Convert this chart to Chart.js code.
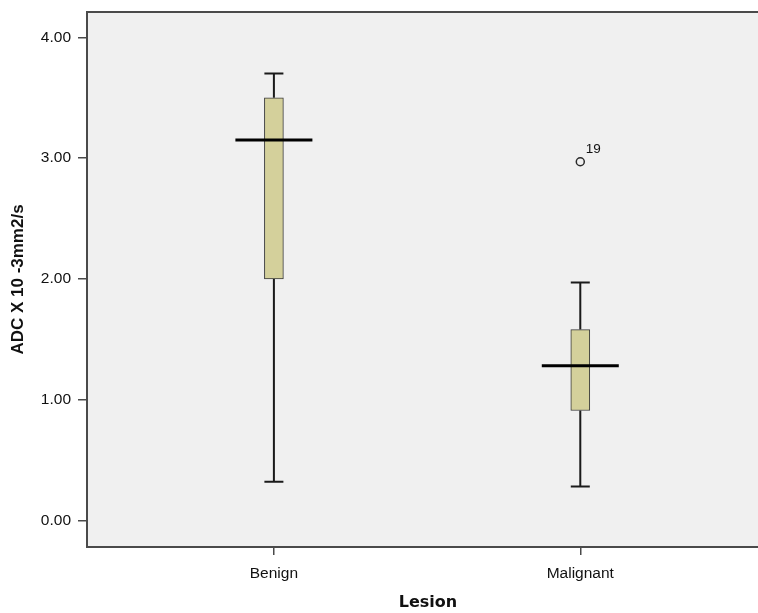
<!DOCTYPE html>
<html>
<head>
<meta charset="utf-8">
<style>
  html, body { margin: 0; padding: 0; background: #ffffff; overflow: hidden; }
  #wrap { width: 758px; height: 613px; position: relative; }
  #chart { display: block; }
</style>
<script src="https://cdn.jsdelivr.net/npm/chart.js@4/dist/chart.umd.min.js"></script>
</head>
<body>
<div id="wrap"><canvas id="chart" width="758" height="613"></canvas></div>
<script>
// Box plot summary of ADC per lesion group
const categories   = ['Benign', 'Malignant'];
const whiskerLow   = [0.32, 0.28];
const quartile1    = [2.00, 0.91];
const medians      = [3.15, 1.28];
const quartile3    = [3.50, 1.58];
const whiskerHigh  = [3.70, 1.97];

// Outlying cases: group index, value, case number
const outlierGroup = [1];
const outlierValue = [2.97];
const outlierCase  = ['19'];

const yTicks = [0, 1, 2, 3, 4];

const xTitle = 'Lesion';
const yTitle = 'ADC X 10 -3mm2/s';

const boxFill = '#d4d09b';
const frameColor = '#4a4a4a';

const boxData = categories.map((c, i) => ({ x: i + 1, y: [quartile1[i], quartile3[i]] }));
const outlierData = outlierGroup.map((g, k) => ({ x: g + 1, y: outlierValue[k] }));

const boxPlotPlugin = {
  id: 'boxPlotParts',
  beforeDraw(chart) {
    const { ctx, chartArea: a } = chart;
    ctx.save();
    ctx.fillStyle = '#f0f0f0';
    ctx.fillRect(a.left, a.top, a.right - a.left, a.bottom - a.top);
    ctx.restore();
  },
  beforeDatasetsDraw(chart) {
    const { ctx, scales: { x, y } } = chart;
    ctx.save();
    ctx.strokeStyle = '#1a1a1a';
    ctx.lineWidth = 2;
    categories.forEach((c, i) => {
      const cx = x.getPixelForValue(i + 1);
      const capHalf = 9.5;
      ctx.beginPath();
      ctx.moveTo(cx, y.getPixelForValue(whiskerHigh[i]));
      ctx.lineTo(cx, y.getPixelForValue(quartile3[i]));
      ctx.moveTo(cx, y.getPixelForValue(quartile1[i]));
      ctx.lineTo(cx, y.getPixelForValue(whiskerLow[i]));
      ctx.moveTo(cx - capHalf, y.getPixelForValue(whiskerHigh[i]));
      ctx.lineTo(cx + capHalf, y.getPixelForValue(whiskerHigh[i]));
      ctx.moveTo(cx - capHalf, y.getPixelForValue(whiskerLow[i]));
      ctx.lineTo(cx + capHalf, y.getPixelForValue(whiskerLow[i]));
      ctx.stroke();
    });
    ctx.restore();
  },
  afterDatasetsDraw(chart) {
    const { ctx, chartArea: a, scales: { x, y } } = chart;
    ctx.save();
    // median lines
    ctx.strokeStyle = '#000000';
    ctx.lineWidth = 3;
    categories.forEach((c, i) => {
      const cx = x.getPixelForValue(i + 1);
      const my = y.getPixelForValue(medians[i]);
      ctx.beginPath();
      ctx.moveTo(cx - 38.5, my);
      ctx.lineTo(cx + 38.5, my);
      ctx.stroke();
    });
    // outlier case labels
    ctx.fillStyle = '#111111';
    ctx.font = '13.5px "Liberation Sans", Arial, sans-serif';
    ctx.textBaseline = 'middle';
    ctx.textAlign = 'left';
    outlierGroup.forEach((g, k) => {
      const px = x.getPixelForValue(g + 1);
      const py = y.getPixelForValue(outlierValue[k]);
      ctx.fillText(outlierCase[k], px + 5.5, py - 12.5);
    });
    // plot frame (open on the right)
    ctx.strokeStyle = frameColor;
    ctx.lineWidth = 2;
    ctx.beginPath();
    ctx.moveTo(a.right + 2, a.top);
    ctx.lineTo(a.left, a.top);
    ctx.lineTo(a.left, a.bottom);
    ctx.lineTo(a.right + 2, a.bottom);
    ctx.stroke();
    // axis titles
    ctx.fillStyle = '#111111';
    ctx.textAlign = 'center';
    ctx.textBaseline = 'middle';
    ctx.font = 'bold 16px "DejaVu Sans", sans-serif';
    ctx.fillText(xTitle, 428, 603);
    ctx.save();
    ctx.translate(18, (a.top + a.bottom) / 2);
    ctx.rotate(-Math.PI / 2);
    ctx.font = 'bold 17px "Liberation Sans", Arial, sans-serif';
    ctx.fillText(yTitle, 0, 0);
    ctx.restore();
    ctx.restore();
  }
};

new Chart(document.getElementById('chart'), {
  type: 'bar',
  data: {
    datasets: [
      {
        type: 'bar',
        label: 'IQR',
        data: boxData,
        backgroundColor: boxFill,
        borderColor: '#3a3a3a',
        borderWidth: 1,
        borderSkipped: false,
        barThickness: 19,
        grouped: false
      },
      {
        type: 'scatter',
        label: 'Outliers',
        data: outlierData,
        pointStyle: 'circle',
        pointRadius: 4,
        pointBorderWidth: 1.5,
        pointBorderColor: '#2a2a2a',
        pointBackgroundColor: 'rgba(0,0,0,0)'
      }
    ]
  },
  options: {
    responsive: false,
    animation: false,
    devicePixelRatio: 1,
    layout: { autoPadding: false, padding: { top: 12, right: 0, left: 0, bottom: 0 } },
    plugins: {
      legend: { display: false },
      tooltip: { enabled: false },
      title: { display: false }
    },
    scales: {
      x: {
        type: 'linear',
        min: 0.39,
        max: 2.58,
        offset: false,
        border: { display: false },
        grid: {
          display: true,
          offset: false,
          drawOnChartArea: false,
          drawTicks: true,
          tickLength: 8,
          color: frameColor,
          lineWidth: 1.5
        },
        afterBuildTicks(scale) {
          scale.ticks = categories.map((c, i) => ({ value: i + 1 }));
        },
        afterFit(scale) {
          scale.height = 66;
          scale.paddingLeft = 0;
          scale.paddingRight = 0;
        },
        ticks: {
          autoSkip: false,
          maxRotation: 0,
          padding: 9,
          color: '#111111',
          font: { family: '"Liberation Sans", Arial, sans-serif', size: 15.5 },
          callback: (v) => categories[Math.round(v) - 1] || ''
        }
      },
      y: {
        min: -0.22,
        max: 4.21,
        border: { display: false },
        grid: {
          display: true,
          offset: false,
          drawOnChartArea: false,
          drawTicks: true,
          tickLength: 9,
          color: frameColor,
          lineWidth: 1.5
        },
        afterBuildTicks(scale) {
          scale.ticks = yTicks.map(v => ({ value: v }));
        },
        afterFit(scale) {
          scale.width = 87;
          scale.paddingTop = 0;
          scale.paddingBottom = 0;
        },
        ticks: {
          padding: 7,
          color: '#111111',
          font: { family: '"Liberation Sans", Arial, sans-serif', size: 15.5 },
          callback: (v) => Number(v).toFixed(2)
        }
      }
    }
  },
  plugins: [boxPlotPlugin]
});
</script>
</body>
</html>
